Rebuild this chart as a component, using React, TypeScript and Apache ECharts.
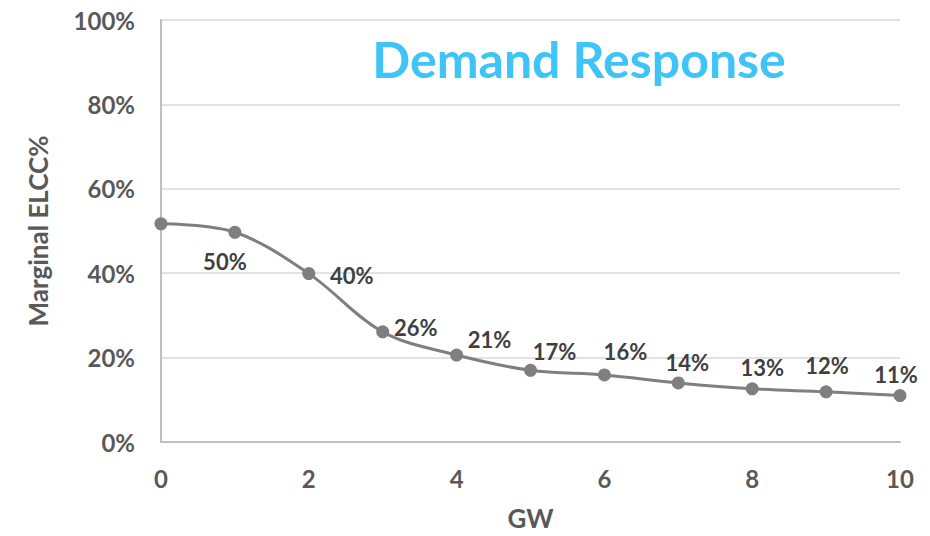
import React, { useEffect, useRef } from "react";
import * as echarts from "echarts";

const gw = [0, 1, 2, 3, 4, 5, 6, 7, 8, 9, 10];
const elcc = [51.7, 49.7, 39.9, 26.1, 20.6, 17, 15.9, 14, 12.6, 11.9, 11];
const showLabel = [false, true, true, true, true, true, true, true, true, true, true];
const labelOffsets: [number, number][] = [
  [0, 0], [-10, 29], [43, 2], [33, -4], [33, -16], [24, -19], [21, -23], [9, -20], [10, -21], [1, -26], [-4, -21],
];
const yTicks = [0, 20, 40, 60, 80, 100];
const xTicks = [0, 2, 4, 6, 8, 10];

const FONT = "Lato";

export default function App() {
  const ref = useRef<HTMLDivElement>(null);
  useEffect(() => {
    if (!ref.current) return;
    const chart = echarts.init(ref.current, undefined, { renderer: "svg" });
    const data = gw.map((x, i) => ({
      value: [x, elcc[i]],
      label: {
        show: showLabel[i],
        position: "inside",
        offset: labelOffsets[i],
      },
    }));
    chart.setOption({
      animation: false,
      backgroundColor: "#ffffff",
      textStyle: { fontFamily: FONT },
      title: {
        text: "Demand Response",
        left: 574,
        top: 29,
        textAlign: "center",
        textStyle: { color: "#3FC4F9", fontSize: 50, fontWeight: "bold", fontFamily: FONT },
      },
      grid: { left: 161, right: 30, top: 20, bottom: 87, containLabel: false },
      xAxis: {
        type: "value",
        min: xTicks[0],
        max: xTicks[xTicks.length - 1],
        interval: 2,
        name: "GW",
        nameLocation: "middle",
        nameGap: 63,
        nameTextStyle: { color: "#595959", fontSize: 26, fontWeight: "bold", fontFamily: FONT },
        axisLine: { show: true, lineStyle: { color: "#bfbfbf", width: 2 } },
        axisTick: { show: false },
        splitLine: { show: false },
        axisLabel: { color: "#595959", fontSize: 24, fontWeight: "bold", margin: 24, fontFamily: FONT },
      },
      yAxis: {
        type: "value",
        min: yTicks[0],
        max: yTicks[yTicks.length - 1],
        interval: 20,
        name: "Marginal ELCC%",
        nameLocation: "middle",
        nameGap: 110,
        nameTextStyle: { color: "#595959", fontSize: 26, fontWeight: "bold", fontFamily: FONT },
        axisLine: { show: true, lineStyle: { color: "#bfbfbf", width: 2 } },
        axisTick: { show: false },
        splitLine: { show: true, lineStyle: { color: "#d9d9d9", width: 1.5 } },
        axisLabel: { color: "#595959", fontSize: 24, fontWeight: "bold", margin: 26, formatter: "{value}%", fontFamily: FONT },
      },
      series: [
        {
          type: "line",
          data,
          smooth: 0.35,
          symbol: "circle",
          symbolSize: 13,
          itemStyle: { color: "#7f7f7f" },
          lineStyle: { color: "#7f7f7f", width: 3 },
          label: {
            color: "#404040",
            fontSize: 22,
            fontWeight: "bold",
            fontFamily: FONT,
            formatter: (p: any) => Math.round(p.value[1]) + "%",
          },
        },
      ],
    });
    return () => chart.dispose();
  }, []);
  return (
    <div
      ref={ref}
      style={{ position: "fixed", left: 0, top: 0, width: 930, height: 536, background: "#fff" }}
    />
  );
}
